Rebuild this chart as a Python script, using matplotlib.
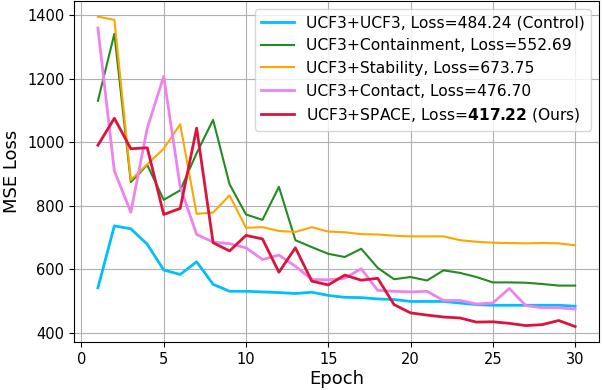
import numpy as np
import matplotlib
matplotlib.use('Agg')
import matplotlib.pyplot as plt

epochs = np.arange(1, 31)

control = [542, 737, 728, 679, 598, 584, 624, 553, 531, 531,
           529, 527, 524, 528, 518, 512, 511, 507, 505, 499,
           499, 499, 494, 489, 487, 487, 487, 487, 487, 484]
containment = [1131, 1342, 875, 929, 819, 849, 966, 1071, 868, 773,
               756, 860, 692, 670, 649, 639, 665, 605, 569, 576,
               565, 597, 589, 576, 559, 559, 558, 554, 549, 549]
stability = [1396, 1386, 882, 931, 980, 1057, 775, 779, 833, 731,
             733, 721, 718, 733, 719, 717, 711, 710, 706, 704,
             704, 704, 692, 687, 684, 683, 682, 683, 682, 676]
contact = [1360, 910, 780, 1045, 1208, 860, 710, 686, 681, 668,
           631, 645, 610, 568, 567, 572, 602, 534, 531, 529,
           531, 502, 502, 491, 494, 540, 486, 479, 479, 475]
space = [991, 1076, 980, 983, 773, 792, 1045, 684, 658, 707,
         696, 591, 668, 563, 551, 582, 566, 572, 489, 463,
         456, 450, 447, 434, 435, 430, 423, 426, 439, 420]

labels = ['UCF3+UCF3, Loss=484.24 (Control)',
          'UCF3+Containment, Loss=552.69',
          'UCF3+Stability, Loss=673.75',
          'UCF3+Contact, Loss=476.70',
          r'UCF3+SPACE, Loss=$\bf{417.22}$ (Ours)']
colors = ['deepskyblue', 'forestgreen', 'orange', 'violet', 'crimson']
widths = [2.0, 1.5, 1.5, 2.0, 2.0]

fig = plt.figure(figsize=(6.02, 3.9), dpi=100)
ax = fig.add_axes([0.123, 0.123, 0.872, 0.874])

for series, label, c, lw in zip([control, containment, stability, contact, space],
                                labels, colors, widths):
    ax.plot(epochs, series, color=c, lw=lw, label=label)

ax.grid(True)
ax.set_xticks(range(0, 31, 5))
ax.set_yticks(range(400, 1401, 200))
ax.tick_params(labelsize=10.5)
ax.set_xlabel('Epoch', fontsize=13, labelpad=2)
ax.set_ylabel('MSE Loss', fontsize=13, labelpad=4)
ax.legend(loc='upper right', fontsize=11.2, handlelength=2.1)

fig.savefig('out.png', dpi=100)
